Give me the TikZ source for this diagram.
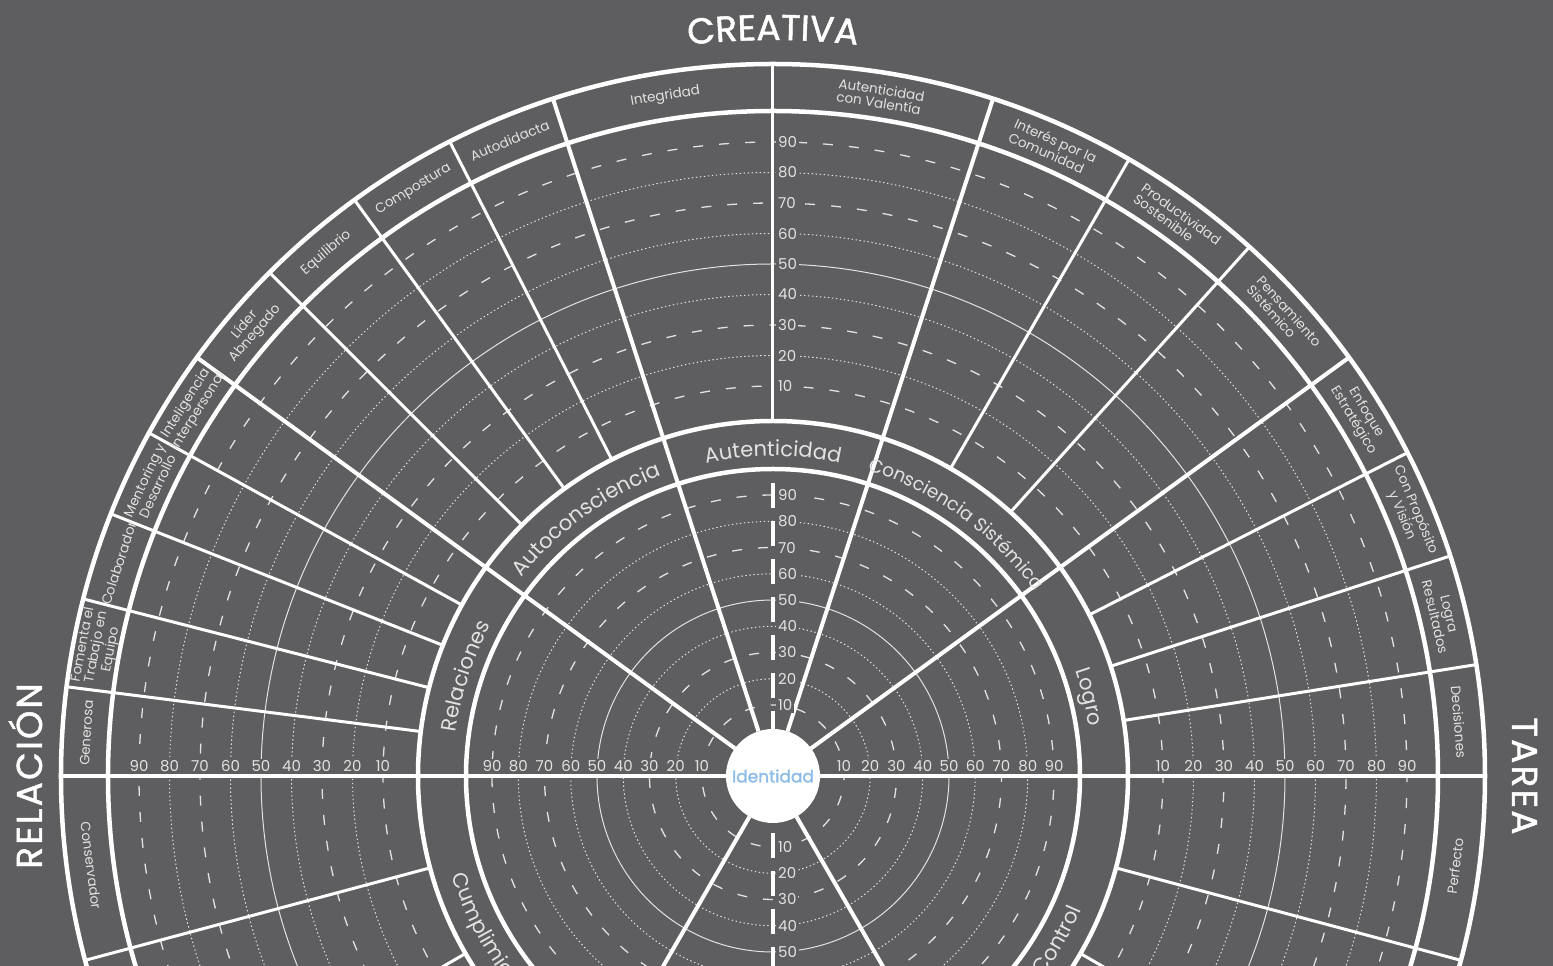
\documentclass[tikz,border=0pt]{standalone}
\usepackage{fontspec}
\setmainfont{Poppins}
\newfontfamily\titlefam{Poppins}[FakeBold=1.3, LetterSpace=6]
\newfontfamily\idfam{Poppins}[FakeBold=1.6]
\usetikzlibrary{decorations.text}

\definecolor{wheelbg}{HTML}{5E5E60}
\definecolor{softwhite}{HTML}{E2E2E2}
\definecolor{idblue}{HTML}{8DBCE8}

\tikzset{
  ringline/.style={white, line width=4.5pt},
  spokeline/.style={white, line width=4pt},
  dimline/.style={white, line width=3pt},
  solidcirc/.style={softwhite, line width=1pt},
  dashcirc/.style={softwhite, line width=1.3pt, dash pattern=on 10pt off 16pt},
  dotcirc/.style={softwhite, line width=1pt, dash pattern=on 1.4pt off 2.6pt},
  scalelbl/.style={text=softwhite, fill=wheelbg, inner sep=2pt, font=\fontsize{15}{15}\selectfont},
  dimlbl/.style={text=softwhite, inner sep=0pt, font=\fontsize{13.5}{13.5}\selectfont},
  bigtitle/.style={text=white, inner sep=0pt, font=\fontsize{36}{36}\titlefam},
}
\newcommand{\bandfont}{\fontsize{21}{21}\selectfont}
\newcommand{\titlefont}{\fontsize{36}{36}\titlefam}

\begin{document}
\begin{tikzpicture}[x=1pt,y=1pt]
% Frame
\useasboundingbox (-773,-190) rectangle (780,776);
\fill[wheelbg] (-773,-190) rectangle (780,776);
\clip (-773,-190) rectangle (780,776);
% Scale circles (inner and outer wheel)
\foreach \v/\sty in {10/dashcirc,20/dotcirc,30/dashcirc,40/dotcirc,50/solidcirc,60/dotcirc,70/dashcirc,80/dotcirc,90/dashcirc} {
  \pgfmathsetmacro{\ri}{44.75+2.625*\v}
  \pgfmathsetmacro{\ro}{359.5+3.05*\v}
  \draw[\sty] (0,0) circle (\ri);
  \draw[\sty] (0,0) circle (\ro);
}
% Dimension dividers
\foreach \a in {9,18,27,48,60,90,117,126,135,151.2,158.4,165.6,172.8,195,210,330,345}
  \draw[dimline] (\a:355) -- (\a:712);
% Competency spokes
\foreach \a in {36,72,108,144,240,300}
  \draw[spokeline] (\a:47) -- (\a:712);
\draw[spokeline] (180:712) -- (0:712);
% Identity axis
\draw[white, line width=4pt, dash pattern=on 25pt off 13pt] (90:293) -- (90:47);
\draw[white, line width=4pt, dash pattern=on 25pt off 13pt] (270:57) -- (270:200);
% Rings
\foreach \r in {307,355,665,712}
  \draw[ringline] (0,0) circle (\r);
% Competency band
\path[decorate, decoration={text along path, text align=center, text={|\bandfont\color{softwhite}|Relaciones}}] (187:320) arc (187:137:320);
\path[decorate, decoration={text along path, text align=center, text={|\bandfont\color{softwhite}|Autoconsciencia}}] (151:320) arc (151:101:320);
\path[decorate, decoration={text along path, text align=center, text={|\bandfont\color{softwhite}|Autenticidad}}] (115:320) arc (115:65:320);
\path[decorate, decoration={text along path, text align=center, text={|\fontsize{18.5}{18.5}\selectfont\color{softwhite}|Consciencia Sistémica}}] (84:320) arc (84:24:320);
\path[decorate, decoration={text along path, text align=center, text={|\bandfont\color{softwhite}|Logro}}] (39:320) arc (39:-11:320);
\path[decorate, decoration={text along path, text align=center, text={|\bandfont\color{softwhite}|Cumplimiento}}] (185:336) arc (185:235:336);
\path[decorate, decoration={text along path, text align=center, text={|\bandfont\color{softwhite}|Control}}] (305:336) arc (305:355:336);
% Dimension labels
\foreach \a/\al/\t [count=\k] in {176.4/center/Generosa, 169.2/center/{Fomenta el\\Trabajo en\\Equipo}, 162/center/Colaborador,
    154.8/center/{Mentoring y\\Desarrollo}, 147.6/center/{Inteligencia\\Interpersonal}, 139.5/center/{Líder\\Abnegado},
    130.5/center/Equilibrio, 121.5/center/Compostura, 112.5/center/Autodidacta, 99/center/Integridad,
    81/left/{Autenticidad\\con Valentía}, 66/left/{Interés por la\\Comunidad}, 54/left/{Productividad\\Sostenible},
    42/left/{Pensamiento\\Sistémico}, 31.5/center/{Enfoque\\Estratégico}, 22.5/center/{Con Propósito\\y Visión},
    13.5/center/{Logra\\Resultados}, 4.5/center/Decisiones}
  \node[dimlbl, align=\al, rotate=\a-90] (dim\k) at (\a:688) {\t};
\node[dimlbl, rotate=-82.5] (dimc) at (187.5:688) {Conservador};
\node[dimlbl, rotate=82.5] (dimp) at (352.5:688) {Perfecto};
% Scale labels
\foreach \v in {10,20,...,90} {
  \pgfmathsetmacro{\ri}{44.75+2.625*\v}
  \pgfmathsetmacro{\ro}{359.5+3.05*\v}
  \node[scalelbl, anchor=west] (iu\v) at (3,\ri) {\v};
  \node[scalelbl, anchor=south] (il\v) at (-\ri,2.2) {\v};
  \node[scalelbl, anchor=south] (ir\v) at (\ri,2.2) {\v};
  \node[scalelbl, anchor=west] (ou\v) at (3,\ro) {\v};
  \node[scalelbl, anchor=south] (ol\v) at (-\ro,2.2) {\v};
  \node[scalelbl, anchor=south] (or\v) at (\ro,2.2) {\v};
}
\foreach \v in {10,20,...,50} {
  \pgfmathsetmacro{\ri}{44.75+2.625*\v}
  \node[scalelbl, anchor=west] (id\v) at (3,-\ri) {\v};
}
% Identity
\node[circle, fill=white, minimum size=94pt, inner sep=0pt, text=idblue, font=\fontsize{17}{17}\idfam] (ident) at (0,0) {Identidad};
% Titles
\path[decorate, decoration={text along path, text align=center, text={|\titlefont\color{white}|CREATIVA}}] (105:736) arc (105:75:736);
\node[bigtitle, anchor=base, rotate=90] (relacion) at (-731,0) {RELACIÓN};
\node[bigtitle, anchor=base, rotate=-90] (tarea) at (739,0) {TAREA};
\end{tikzpicture}
\end{document}
